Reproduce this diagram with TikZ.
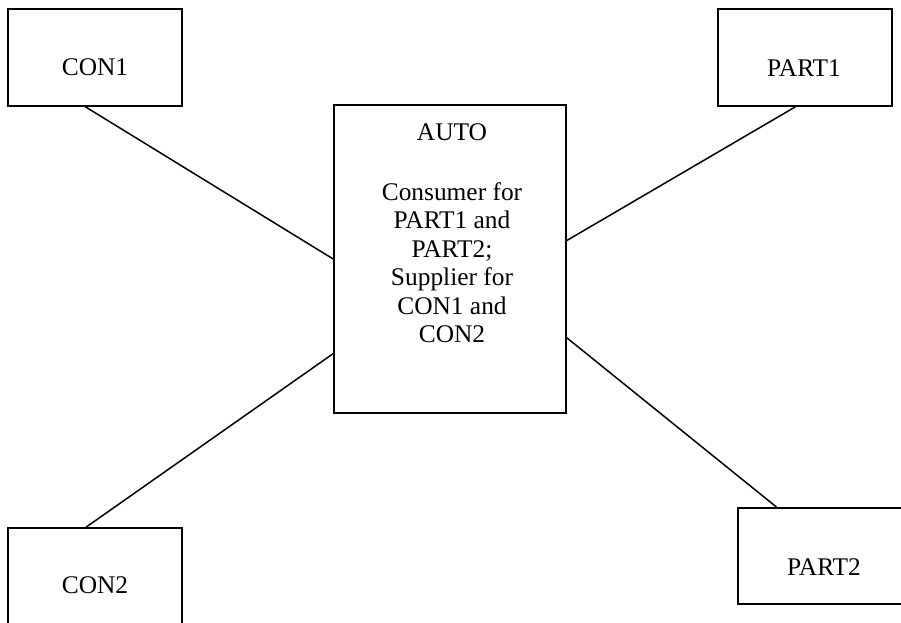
\documentclass[tikz,border=0pt]{standalone}
\usepackage{fontspec}
\setmainfont{Liberation Serif}
\begin{document}
\begin{tikzpicture}[x=1pt,y=-1pt,
  box/.style={draw, line width=1.6pt, rectangle, inner sep=0pt},
  link/.style={line width=1.5pt},
  lbl/.style={font=\fontsize{25.4}{28.4}\selectfont, inner sep=0pt, align=center}]
\useasboundingbox (0,0) rectangle (901,622);
\clip (0,0) rectangle (901,622);

% boxes
\node[box, minimum width=174pt, minimum height=97pt]  (con1)  at (95,57.5) {};
\node[box, minimum width=174pt, minimum height=97pt]  (part1) at (805,57.5) {};
\node[box, minimum width=232pt, minimum height=308pt] (auto)  at (450,259) {};
\node[box, minimum width=174pt, minimum height=112pt] (con2)  at (95,584) {};
\node[box, minimum width=182pt, minimum height=96pt]  (part2) at (829,556) {};

% labels
\node[lbl] (con1t)  at ([yshift=-10pt]con1.center) {CON1};
\node[lbl] (part1t) at ([xshift=-1pt,yshift=-10.5pt]part1.center) {PART1};
\node[lbl] (con2t)  at ([yshift=-1pt]con2.center) {CON2};
\node[lbl] (part2t) at ([xshift=-5pt,yshift=-11pt]part2.center) {PART2};
\node[lbl, anchor=north] (autot) at ([xshift=2pt,yshift=-19.4pt]auto.north)
  {AUTO\\[31.5pt]Consumer for\\PART1 and\\PART2;\\Supplier for\\CON1 and\\CON2};

% connectors
\draw[link] (con1.259.5)  -- (auto.west);
\draw[link] (con2.99.1)   -- (auto.219.6);
\draw[link] (part1.259.5) -- (auto.9.8);
\draw[link] (part2.137.8) -- (auto.326.4);
\end{tikzpicture}
\end{document}
